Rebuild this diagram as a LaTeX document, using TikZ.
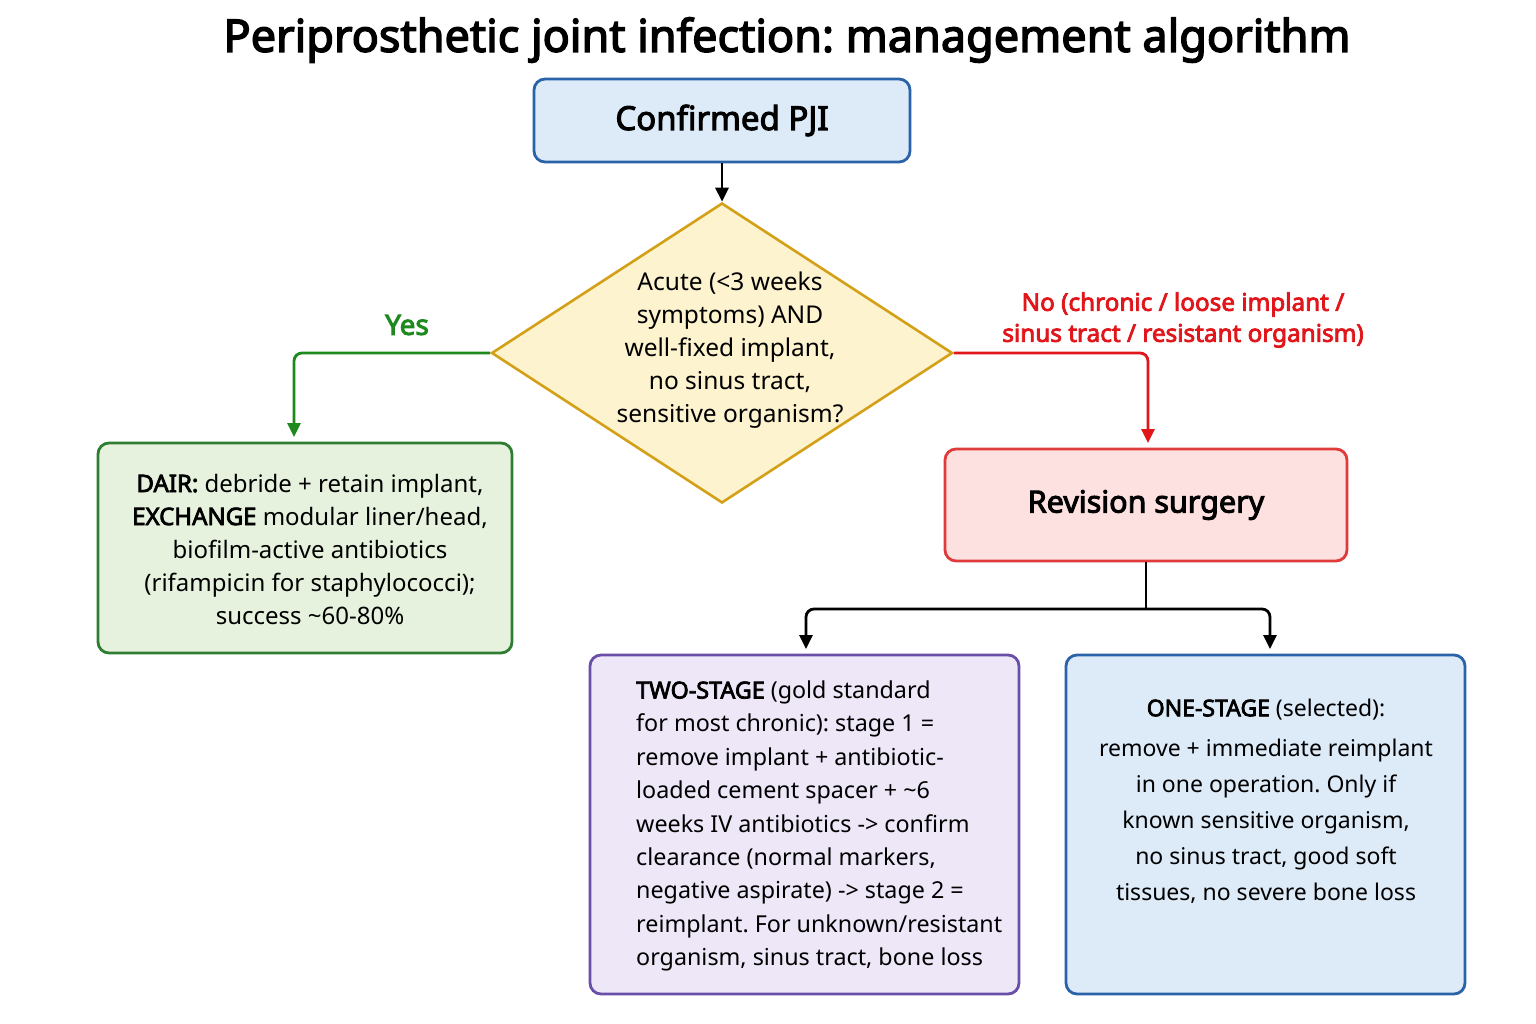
\documentclass[tikz,border=0pt]{standalone}
\usepackage{fontspec}
\setmainfont{Noto Sans}[AutoFakeBold=3.2]
\usetikzlibrary{arrows.meta,shapes.geometric}
\definecolor{bluefill}{HTML}{DDEAF8}
\definecolor{blueline}{HTML}{2A63A8}
\definecolor{yelfill}{HTML}{FDF3CF}
\definecolor{yelline}{HTML}{D4A017}
\definecolor{grnfill}{HTML}{E6F2DE}
\definecolor{grnline}{HTML}{2E7D32}
\definecolor{grnarrow}{HTML}{1E8A1E}
\definecolor{redfill}{HTML}{FDE0E0}
\definecolor{redline}{HTML}{E03A3A}
\definecolor{redarrow}{HTML}{E0161B}
\definecolor{purfill}{HTML}{EDE7F8}
\definecolor{purline}{HTML}{6A4FA8}
\tikzset{
  box/.style={draw, line width=2.8pt, rounded corners=11pt, inner sep=0pt},
  body/.style={font=\fontsize{24}{33}\selectfont, align=center, inner sep=0pt},
  arr/.style={line width=2.8pt, -{Triangle[length=14pt,width=13pt]}},
}
\begin{document}
\frenchspacing
\begin{tikzpicture}[x=1pt,y=-1pt]
\useasboundingbox (0,0) rectangle (1536,1024);
\fill[white] (0,0) rectangle (1536,1024);
% title
\node[font=\fontsize{45}{50}\selectfont\bfseries, inner sep=0pt] (title) at (787,40) {Periprosthetic joint infection: management algorithm};
% boxes
\node[box, fill=bluefill, draw=blueline, minimum width=376pt, minimum height=83pt,
      font=\fontsize{33}{38}\selectfont\bfseries] (pji) at (722,120.5) {Confirmed PJI};
\node[draw=yelline, fill=yelfill, line width=2.6pt, diamond, minimum width=461pt, minimum height=300pt, inner sep=0pt] (dec) at (722,353) {};
\node[body, font=\fontsize{24.5}{33}\selectfont] (dectext) at (730,350) {Acute (<3 weeks\\symptoms) AND\\well-fixed implant,\\no sinus tract,\\sensitive organism?};
\node[box, fill=grnfill, draw=grnline, minimum width=414pt, minimum height=210pt] (dair) at (305,548) {};
\node[body] (dairtext) at (310,549) {\textbf{DAIR:} debride + retain implant,\\\textbf{EXCHANGE} modular liner/head,\\biofilm-active antibiotics\\(rifampicin for staphylococci);\\success \textasciitilde60-80\%};
\node[box, fill=redfill, draw=redline, minimum width=402pt, minimum height=112pt,
      font=\fontsize{30.5}{36}\selectfont\bfseries] (rev) at (1146,505) {Revision surgery};
\node[box, fill=purfill, draw=purline, minimum width=429pt, minimum height=339pt] (two) at (804.5,824.5) {};
\node[body, font=\fontsize{23.3}{33.4}\selectfont, align=left, anchor=west] (twotext) at (636,826) {\textbf{TWO-STAGE} (gold standard\\for most chronic): stage 1 =\\remove implant + antibiotic-\\loaded cement spacer + \textasciitilde6\\weeks IV antibiotics -> confirm\\clearance (normal markers,\\negative aspirate) -> stage 2 =\\reimplant. For unknown/resistant\\organism, sinus tract, bone loss};
\node[box, fill=bluefill, draw=blueline, minimum width=399pt, minimum height=339pt] (one) at (1265.5,824.5) {};
\node[body, font=\fontsize{23}{36}\selectfont] (onetext) at (1266,801) {\textbf{ONE-STAGE} (selected):\\[4pt]remove + immediate reimplant\\in one operation. Only if\\known sensitive organism,\\no sinus tract, good soft\\tissues, no severe bone loss};
% connectors
\draw[arr] (pji.south) -- (dec.north);
\draw[arr, grnarrow, rounded corners=8pt] (dec.west) -| (294,437);
\node[font=\fontsize{28}{30}\selectfont\bfseries, text=grnarrow, inner sep=0pt] (yes) at (407,325) {Yes};
\draw[arr, redarrow, rounded corners=8pt] (dec.east) -| (1148,443);
\node[font=\fontsize{24.3}{31}\selectfont\bfseries, text=redarrow, align=center, inner sep=0pt] (no) at (1183,320) {No (chronic / loose implant /\\sinus tract / resistant organism)};
\coordinate (split) at (1146,609);
\draw[line width=2.8pt] (rev.south) -- (split);
\draw[arr, rounded corners=8pt] (split) -| (806,649);
\draw[arr, rounded corners=8pt] (split) -| (1270,649);
\end{tikzpicture}
\end{document}
